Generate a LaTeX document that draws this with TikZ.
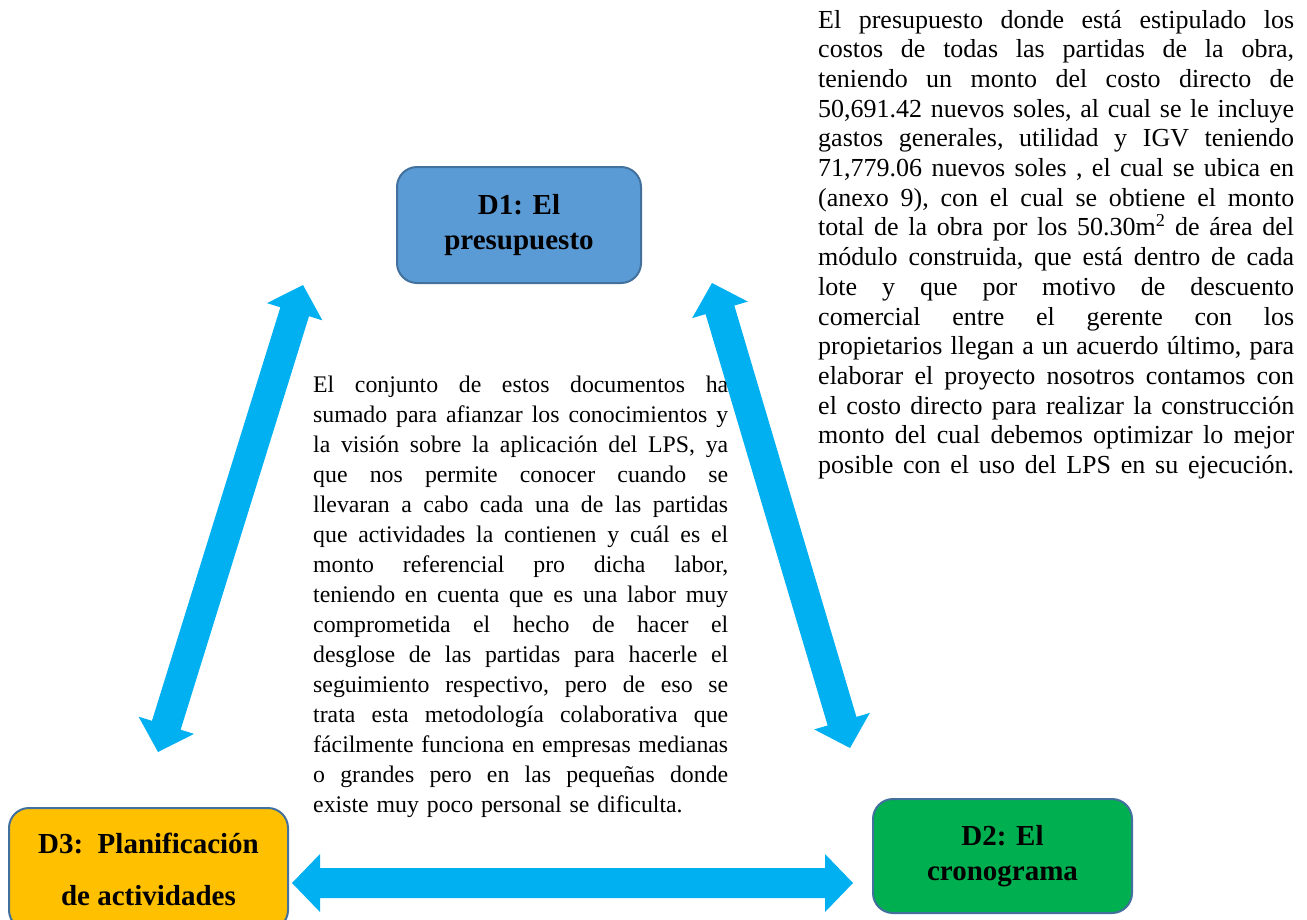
\documentclass[tikz,border=0pt]{standalone}
\usepackage{fontspec}
\setmainfont{Liberation Serif}
\usetikzlibrary{calc}
\definecolor{arrowcol}{HTML}{00B0F0}
\definecolor{dblue}{HTML}{5B9BD5}
\definecolor{dborder}{HTML}{41719C}
\definecolor{dyellow}{HTML}{FFC000}
\definecolor{dgreen}{HTML}{00B050}
\def\jend{\jend}
\def\jw#1 #2\jend{#1\ifx\jend#2\jend\else\hskip 0.25em plus 1fil minus 0.06em\relax\jw#2\jend\fi}
\newcommand{\jm}[1]{\hbox to 415pt{\jw#1 \jend}}
\newcommand{\jr}[1]{\hbox to 476pt{\jw#1 \jend}}
\newcommand{\blockarrow}[2]{%
  \coordinate (#1h) at ($(#1)!28pt!(#2)$);
  \coordinate (#2h) at ($(#2)!28pt!(#1)$);
  \fill[arrowcol] (#1)
    -- ($(#1h)!29pt!90:(#2)$) -- ($(#1h)!15pt!90:(#2)$)
    -- ($(#2h)!15pt!-90:(#1)$) -- ($(#2h)!29pt!-90:(#1)$)
    -- (#2)
    -- ($(#2h)!29pt!90:(#1)$) -- ($(#2h)!15pt!90:(#1)$)
    -- ($(#1h)!15pt!-90:(#2)$) -- ($(#1h)!29pt!-90:(#2)$)
    -- cycle;}
\tikzset{
  dbox/.style={draw=dborder, line width=2pt, rounded corners=20pt,
    font=\fontsize{29}{35}\selectfont\bfseries, align=center, inner sep=0pt},
  para/.style={inner sep=0pt, anchor=base west, align=left}
}
\begin{document}
\begin{tikzpicture}[x=1pt,y=-1pt]
\useasboundingbox (0,0) rectangle (1307,919);
\clip (0,0) rectangle (1307,919);
\fill[white] (0,0) rectangle (1307,919);

\node[dbox, fill=dblue, minimum width=244pt, minimum height=116pt] (d1) at (519,225) {D1: El\\presupuesto};
\node[dbox, fill=dgreen, minimum width=259pt, minimum height=114pt] (d2) at (1002.5,856) {D2: El\\cronograma};
\node[dbox, fill=dyellow, minimum width=279pt, minimum height=122pt, font=\fontsize{29}{52}\selectfont\bfseries] (d3) at (148.5,869) {D3:~~Planificación\\de actividades};

\coordinate (l1) at (303,285);
\coordinate (l2) at (158,752);
\coordinate (r1) at (712,283);
\coordinate (r2) at (850,748);
\coordinate (b1) at (292,883);
\coordinate (b2) at (853,883);
\blockarrow{l1}{l2}
\blockarrow{r1}{r2}
\blockarrow{b1}{b2}

\node[para, text width=415pt, font=\fontsize{23.8}{30}\selectfont] (mid) at (313,392) {%
\jm{El conjunto de estos documentos ha}
\jm{sumado para afianzar los conocimientos y}
\jm{la visión sobre la aplicación del LPS, ya}
\jm{que nos permite conocer cuando se}
\jm{llevaran a cabo cada una de las partidas}
\jm{que actividades la contienen y cuál es el}
\jm{monto referencial pro dicha labor,}
\jm{teniendo en cuenta que es una labor muy}
\jm{comprometida el hecho de hacer el}
\jm{desglose de las partidas para hacerle el}
\jm{seguimiento respectivo, pero de eso se}
\jm{trata esta metodología colaborativa que}
\jm{fácilmente funciona en empresas medianas}
\jm{o grandes pero en las pequeñas donde}
\hbox{existe muy poco personal se dificulta.}};

\node[para, text width=476pt, font=\fontsize{26}{29.7}\selectfont] (right) at (818,28) {%
\jr{El presupuesto donde está estipulado los}
\jr{costos de todas las partidas de la obra,}
\jr{teniendo un monto del costo directo de}
\jr{50,691.42 nuevos soles, al cual se le incluye}
\jr{gastos generales, utilidad y IGV teniendo}
\jr{71,779.06 nuevos soles , el cual se ubica en}
\jr{(anexo 9), con el cual se obtiene el monto}
\jr{total de la obra por los 50.30m\textsuperscript{2} de área del}
\jr{módulo construida, que está dentro de cada}
\jr{lote y que por motivo de descuento}
\jr{comercial entre el gerente con los}
\jr{propietarios llegan a un acuerdo último, para}
\jr{elaborar el proyecto nosotros contamos con}
\jr{el costo directo para realizar la construcción}
\jr{monto del cual debemos optimizar lo mejor}
\jr{posible con el uso del LPS en su ejecución.}};
\end{tikzpicture}
\end{document}
